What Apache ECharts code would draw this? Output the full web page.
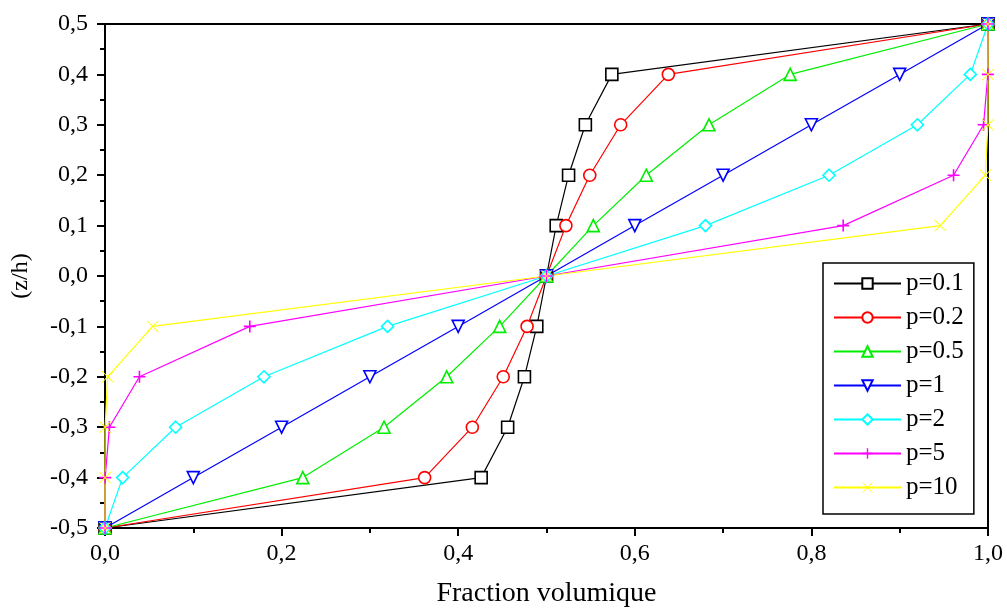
<!DOCTYPE html>
<html>
<head>
<meta charset="utf-8">
<script src="https://cdn.jsdelivr.net/npm/echarts@6/dist/echarts.min.js"></script>
<style>
  html, body { margin: 0; padding: 0; background: #fff; }
  #chart { width: 1007px; height: 610px; }
</style>
</head>
<body>
<div id="chart"></div>
<script>
// z/h levels, same for every curve
const zLevels = [-0.5, -0.4, -0.3, -0.2, -0.1, 0.0, 0.1, 0.2, 0.3, 0.4, 0.5];

// volume fraction at each z/h level
const vP01 = [0, 0.426, 0.456, 0.475, 0.489, 0.5, 0.511, 0.525, 0.544, 0.574, 1];
const vP02 = [0, 0.362, 0.416, 0.451, 0.478, 0.5, 0.522, 0.549, 0.584, 0.638, 1];
const vP05 = [0, 0.224, 0.316, 0.387, 0.447, 0.5, 0.553, 0.613, 0.684, 0.776, 1];
const vP1 = [0, 0.1, 0.2, 0.3, 0.4, 0.5, 0.6, 0.7, 0.8, 0.9, 1];
const vP2 = [0, 0.02, 0.08, 0.18, 0.32, 0.5, 0.68, 0.82, 0.92, 0.98, 1];
const vP5 = [0, 0.0002, 0.005, 0.039, 0.164, 0.5, 0.836, 0.961, 0.995, 0.9998, 1];
const vP10 = [0, 0.0, 0.0001, 0.003, 0.054, 0.5, 0.946, 0.997, 0.9999, 1, 1];

const seriesNames = ['p=0.1', 'p=0.2', 'p=0.5', 'p=1', 'p=2', 'p=5', 'p=10'];
const seriesValues = [vP01, vP02, vP05, vP1, vP2, vP5, vP10];

const xTicks = [0, 0.2, 0.4, 0.6, 0.8, 1.0];
const yTicks = [-0.5, -0.4, -0.3, -0.2, -0.1, 0, 0.1, 0.2, 0.3, 0.4, 0.5];

const fmt = (v) => v.toFixed(1).replace('.', ',');

const colors = ['#000000', '#ff0000', '#00ee00', '#0000ff', '#00ffff', '#ff00ff', '#ffff00'];
const plusPath = 'path://M0,5.2H12V6.8H0Z M5.2,0H6.8V12H5.2Z';
const crossPath = 'path://M0.6,0L6,5.4L11.4,0L12,0.6L6.6,6L12,11.4L11.4,12L6,6.6L0.6,12L0,11.4L5.4,6L0,0.6Z';
const markers = [
  { symbol: 'rect', rotate: 0, hollow: true },
  { symbol: 'circle', rotate: 0, hollow: true },
  { symbol: 'triangle', rotate: 0, hollow: true },
  { symbol: 'triangle', rotate: 180, hollow: true },
  { symbol: 'diamond', rotate: 0, hollow: true },
  { symbol: plusPath, rotate: 0, hollow: false },
  { symbol: crossPath, rotate: 0, hollow: false },
];

const chart = echarts.init(document.getElementById('chart'));
const serif = '"Liberation Serif", "DejaVu Serif", serif';

chart.setOption({
  animation: false,
  backgroundColor: '#fff',
  grid: {
    left: 105, right: 19, top: 24, bottom: 82,
    outerBoundsMode: 'none',
    containLabel: false,
    show: true, borderColor: '#000', borderWidth: 2, backgroundColor: 'transparent',
  },
  legend: {
    orient: 'vertical',
    left: 823,
    top: 263,
    padding: [8, 10, 14, 10],
    backgroundColor: '#fff',
    borderColor: '#000',
    borderWidth: 1.5,
    itemWidth: 67,
    itemHeight: 13,
    itemGap: 9,
    textStyle: { fontFamily: serif, fontSize: 25, color: '#000' },
    data: seriesNames,
  },
  xAxis: {
    type: 'value',
    min: 0, max: 1, interval: 0.2,
    name: 'Fraction volumique',
    nameLocation: 'middle',
    nameGap: 52,
    nameTextStyle: { fontFamily: serif, fontSize: 28, color: '#000' },
    axisLine: { onZero: false, lineStyle: { color: '#000', width: 2 } },
    axisTick: { inside: false, length: 8, lineStyle: { color: '#000', width: 2 } },
    minorTick: { show: true, splitNumber: 2, length: 5, lineStyle: { color: '#000', width: 2 } },
    splitLine: { show: false },
    axisLabel: {
      fontFamily: serif, fontSize: 24, color: '#000', margin: 14,
      formatter: (v) => fmt(v),
      customValues: xTicks,
    },
  },
  yAxis: {
    type: 'value',
    min: -0.5, max: 0.5, interval: 0.1,
    name: '(z/h)',
    nameLocation: 'middle',
    nameGap: 72,
    nameRotate: 90,
    nameTextStyle: { fontFamily: serif, fontSize: 24, color: '#000' },
    axisLine: { onZero: false, lineStyle: { color: '#000', width: 2 } },
    axisTick: { inside: false, length: 8, lineStyle: { color: '#000', width: 2 } },
    minorTick: { show: true, splitNumber: 2, length: 5, lineStyle: { color: '#000', width: 2 } },
    splitLine: { show: false },
    axisLabel: {
      fontFamily: serif, fontSize: 24, color: '#000', margin: 17,
      formatter: (v) => fmt(v),
      customValues: yTicks,
    },
  },
  series: seriesNames.map((name, i) => ({
    name,
    type: 'line',
    clip: false,
    symbol: markers[i].symbol,
    symbolRotate: markers[i].rotate,
    symbolSize: 12,
    showAllSymbol: true,
    lineStyle: { color: colors[i], width: 1.2 },
    itemStyle: markers[i].hollow
      ? { color: '#fff', borderColor: colors[i], borderWidth: 1.6 }
      : { color: colors[i], borderWidth: 0 },
    data: seriesValues[i].map((v, k) => [v, zLevels[k]]),
  })),
});
</script>
</body>
</html>
